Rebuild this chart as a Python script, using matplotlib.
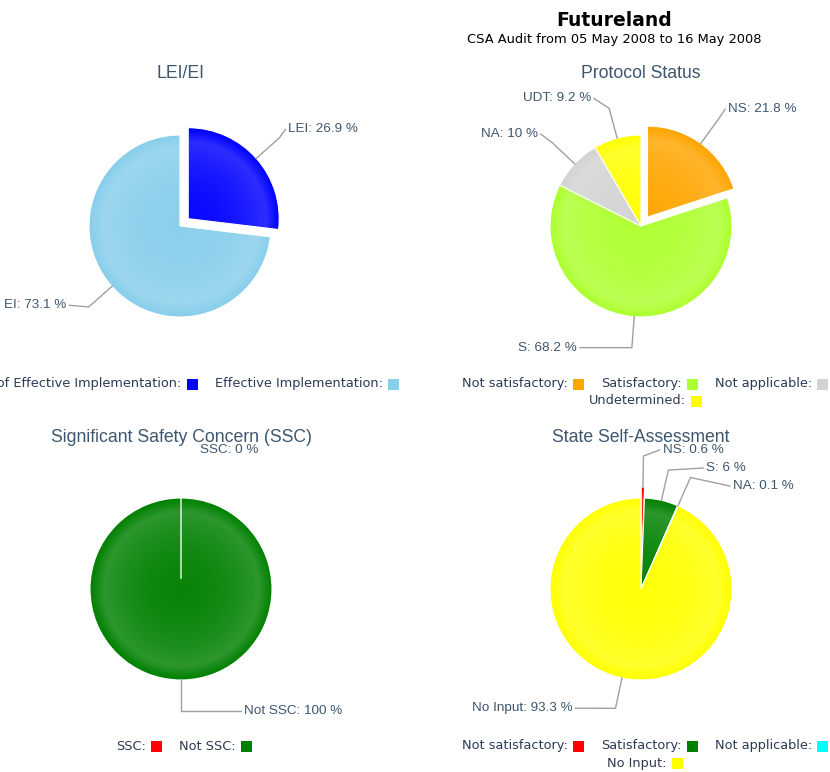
import numpy as np
import matplotlib
matplotlib.use('Agg')
import matplotlib.pyplot as plt
from matplotlib.patches import Rectangle

W, H = 830, 772

# ---- data ----
lei_names = ['Lack of Effective Implementation', 'Effective Implementation']
lei_short = ['LEI', 'EI']
lei_vals = [26.9, 73.1]
lei_colors = ['#0000FF', '#87CEEB']

ps_names = ['Not satisfactory', 'Satisfactory', 'Not applicable', 'Undetermined']
ps_short = ['NS', 'S', 'NA', 'UDT']
ps_vals = [21.8, 68.2, 10, 9.2]
ps_colors = ['#FFA500', '#ADFF2F', '#D3D3D3', '#FFFF00']

ssc_names = ['SSC', 'Not SSC']
ssc_short = ['SSC', 'Not SSC']
ssc_vals = [0, 100]
ssc_colors = ['#FF0000', '#008000']

sa_names = ['Not satisfactory', 'Satisfactory', 'Not applicable', 'No Input']
sa_short = ['NS', 'S', 'NA', 'No Input']
sa_vals = [0.6, 6, 0.1, 93.3]
sa_colors = ['#FF0000', '#008000', '#00FFFF', '#FFFF00']

main_title = 'Futureland'
sub_title = 'CSA Audit from 05 May 2008 to 16 May 2008'

TITLE_C = '#3E576F'
LABEL_C = '#3E576F'
LEGEND_C = '#2b3a55'
CONN_C = '#A0A0A0'
RAD = 91


def Y(py):
    return H - py


fig = plt.figure(figsize=(W / 100, H / 100), dpi=100)
ax = fig.add_axes([0, 0, 1, 1])
renderer = fig.canvas.get_renderer()


def shade(w):
    # soft radial highlight like the original
    n = 200
    cx, cy = w.center
    g = np.linspace(-1, 1, n)
    xx, yy = np.meshgrid(g, g)
    rho = np.sqrt(xx ** 2 + yy ** 2)
    a = np.where(rho < 0.85, 0.04 + 0.14 * (rho / 0.85) ** 2,
                 np.clip(0.18 * (1 - (rho - 0.85) / 0.15), 0, None))
    img = np.zeros((n, n, 4))
    img[..., :3] = 1
    img[..., 3] = a
    im = ax.imshow(img, extent=[cx - w.r, cx + w.r, cy - w.r, cy + w.r],
                   aspect='auto', interpolation='bilinear', zorder=2)
    im.set_clip_path(w)


def spread(items, top, gap=18):
    items.sort(key=lambda d: -d['y'])
    for _ in range(200):
        moved = False
        for a, b in zip(items[:-1], items[1:]):
            d = a['y'] - b['y']
            if d < gap - 1e-6:
                s = (gap - d) / 2
                a['y'] += s
                b['y'] -= s
                moved = True
        if not moved:
            break
    # labels cannot go above the plot area
    for i, d in enumerate(items):
        lim = top if i == 0 else items[i - 1]['y'] - gap
        if d['y'] > lim:
            d['y'] = lim


def draw_pie(vals, colors, short, center, title, top):
    cx, cy = center[0], Y(center[1])
    wedges, _ = ax.pie(vals, colors=colors, center=(cx, cy), radius=RAD,
                       startangle=90, counterclock=False,
                       explode=[11] + [0] * (len(vals) - 1),
                       wedgeprops=dict(edgecolor='white', linewidth=0.8))
    for w in wedges:
        w.set_zorder(1)
        shade(w)
    left, right = [], []
    for w, s, v in zip(wedges, short, vals):
        phi = np.deg2rad((w.theta1 + w.theta2) / 2)
        u = np.array([np.cos(phi), np.sin(phi)])
        c = np.array(w.center)
        edge = c + w.r * u
        brk = c + (w.r + 31) * u
        if v == 0:
            ax.plot([c[0], edge[0]], [c[1], edge[1]], color='white', lw=1.2,
                    alpha=0.8, zorder=3)
        d = dict(text=f'{s}: {v:g} %', edge=edge, brk=brk,
                 y=c[1] + (w.r + 36) * u[1] + 5, show=v > 0)
        (right if u[0] >= -1e-6 else left).append(d)
    RL = 136
    for side, items in ((1, right), (-1, left)):
        spread(items, Y(top))
        for d in items:
            dy = d['y'] - cy
            if abs(dy) < RL:
                x1 = cx + side * np.sqrt(RL ** 2 - dy ** 2)
                x1 = max(x1, d['brk'][0] + 6) if side > 0 else min(x1, d['brk'][0] - 6)
            else:
                x1 = d['brk'][0] + side * 16
            if d['show']:
                ax.plot([d['edge'][0], d['brk'][0], x1], [d['edge'][1], d['brk'][1], d['y']],
                        color=CONN_C, lw=1, zorder=3)
            ax.text(x1 + side * 3, d['y'], d['text'], ha='left' if side > 0 else 'right',
                    va='center', fontsize=9.7, family='Liberation Sans', color=LABEL_C, zorder=4)
    ax.text(center[0], Y(center[2]), title, ha='center', va='center', fontsize=12.7,
            family='Liberation Sans', color=TITLE_C)


def draw_legend(names, colors, cx, rows, y0):
    for r, idx in enumerate(rows):
        y = Y(y0 + 17 * r)
        widths = []
        for i in idx:
            t = ax.text(0, 0, names[i] + ':', fontsize=9.3, family='DejaVu Sans')
            widths.append(t.get_window_extent(renderer).width)
            t.remove()
        total = sum(w + 5 + 11 for w in widths) + 17 * (len(idx) - 1)
        x = cx - total / 2
        for i, w in zip(idx, widths):
            ax.text(x, y, names[i] + ':', ha='left', va='center', fontsize=9.3,
                    family='DejaVu Sans', color=LEGEND_C)
            x += w + 5
            ax.add_patch(Rectangle((x, y - 5.5), 11, 11, facecolor=colors[i],
                                   edgecolor='none', zorder=3))
            x += 11 + 17


draw_pie(lei_vals, lei_colors, lei_short, (180, 226, 73), 'LEI/EI', 92)
draw_pie(ps_vals, ps_colors, ps_short, (641, 226, 73), 'Protocol Status', 92)
draw_pie(ssc_vals, ssc_colors, ssc_short, (181, 589, 437), 'Significant Safety Concern (SSC)', 450)
draw_pie(sa_vals, sa_colors, sa_short, (641, 589, 437), 'State Self-Assessment', 450)

draw_legend(lei_names, lei_colors, 181, [[0, 1]], 384)
draw_legend(ps_names, ps_colors, 645, [[0, 1, 2], [3]], 384)
draw_legend(ssc_names, ssc_colors, 184, [[0, 1]], 746)
draw_legend(sa_names, sa_colors, 645, [[0, 1, 2], [3]], 746)

ax.text(614, Y(20), main_title, ha='center', va='center', fontsize=13.5,
        fontweight='bold', family='DejaVu Sans', color='black')
ax.text(614, Y(39), sub_title, ha='center', va='center', fontsize=9.4,
        family='DejaVu Sans', color='black')

ax.set_xlim(0, W)
ax.set_ylim(0, H)
ax.set_aspect('auto')
ax.set_position([0, 0, 1, 1])
ax.axis('off')

fig.savefig('out.png', dpi=100)
